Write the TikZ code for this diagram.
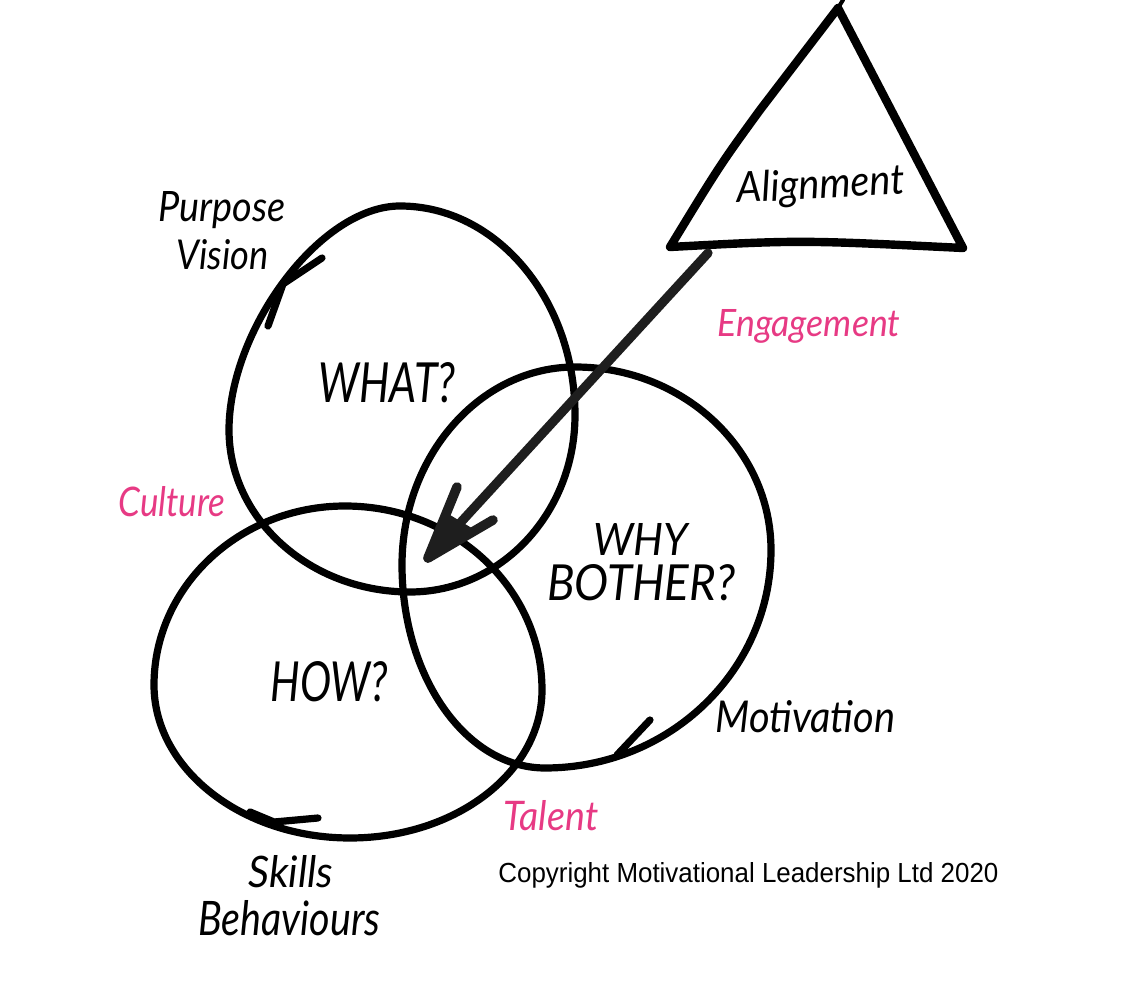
\documentclass[tikz,border=0pt]{standalone}
\usepackage{fontspec}
\setmainfont{Lato}
\newfontfamily\arialfont{Liberation Sans}
\usepackage{graphicx}
\definecolor{hotpink}{RGB}{231,58,132}
\definecolor{arrowgray}{RGB}{30,30,30}
% #1 width (px), #2 height above baseline (px), #3 text
\newcommand{\hwtext}[3]{\resizebox{#1\dimexpr0.5pt\relax}{#2\dimexpr0.5pt\relax}{\itshape #3}}
\begin{document}
\begin{tikzpicture}[x=0.5pt,y=-0.5pt,
  ring/.style={line width=3.6pt, line cap=round, line join=round},
  barb/.style={line width=3.6pt, line cap=round, line join=round},
  lbl/.style={inner sep=0pt, anchor=base west, text=black},
  pinklbl/.style={lbl, text=hotpink},
]
\useasboundingbox (0,0) rectangle (1140,1004);
\fill[white] (0,0) rectangle (1140,1004);

% WHAT circle
\draw[ring] (400,206) .. controls (497,206) and (575,300) .. (575,415)
  .. controls (575,513) and (501,592) .. (410,592)
  .. controls (310,592) and (229,519) .. (229,430)
  .. controls (229,330) and (320,206) .. (400,206) -- cycle;
\draw[barb] (322,258) -- (283,284) -- (268,326);

% WHY BOTHER circle
\draw[ring] (575,367) .. controls (683,367) and (771,449) .. (771,550)
  .. controls (771,670) and (670,768) .. (545,768)
  .. controls (466,768) and (402,677) .. (402,565)
  .. controls (402,456) and (480,367) .. (575,367) -- cycle;
\draw[barb] (650,720) -- (617,755);

% HOW circle
\draw[ring] (345,506) .. controls (454,506) and (542,588) .. (542,690)
  .. controls (542,772) and (456,838) .. (350,838)
  .. controls (242,838) and (154,769) .. (154,685)
  .. controls (154,586) and (240,506) .. (345,506) -- cycle;
\draw[barb] (318,818) -- (274,822) -- (250,812);

% Alignment triangle
\draw[line width=4.2pt, line join=round, line cap=round]
  (838,8) -- (760,110) .. controls (720,165) .. (670,247)
  .. controls (800,240) .. (963,248) -- cycle;
\draw[line width=2pt, line cap=round] (838,8) -- (843,0);
\node[lbl, rotate=3] (align) at (737,203) {\hwtext{168}{31}{Alignment}};

% Engagement arrow
\coordinate (arrowstart) at (708,253);
\coordinate (arrowtip) at (428,558);
\draw[arrowgray, line width=4.6pt, line cap=round] (arrowstart) -- (arrowtip);
\draw[arrowgray, line width=4.8pt, line cap=round, line join=round]
  (457,487) -- (arrowtip) -- (493,520);
\fill[arrowgray] (arrowtip) -- (445,512) -- (475,530) -- cycle;

% Labels
\node[lbl] (purpose) at (158,222) {\hwtext{127}{30}{Purpose}};
\node[lbl] (vision) at (176,270) {\hwtext{92}{30}{Vision}};
\node[pinklbl] (engage) at (717,337) {\hwtext{183}{27}{Engagement}};
\node[lbl] (what) at (318,403) {\hwtext{137}{40}{WHAT?}};
\node[pinklbl] (culture) at (118,517) {\hwtext{107}{30}{Culture}};
\node[lbl] (why) at (593,556) {\hwtext{95}{32}{WHY}};
\node[lbl] (bother) at (547,601) {\hwtext{188}{36}{BOTHER?}};
\node[lbl] (how) at (270,702) {\hwtext{118}{40}{HOW?}};
\node[lbl] (motiv) at (715,732) {\hwtext{180}{32}{Motivation}};
\node[pinklbl] (talent) at (503,830) {\hwtext{95}{30}{Talent}};
\node[lbl] (skills) at (248,887) {\hwtext{85}{32}{Skills}};
\node[lbl] (behav) at (198,935) {\hwtext{182}{35}{Behaviours}};
\node[lbl] (copy) at (498,882) {\resizebox{250pt}{10pt}{\arialfont Copyright Motivational Leadership Ltd 2020}};
\end{tikzpicture}
\end{document}
